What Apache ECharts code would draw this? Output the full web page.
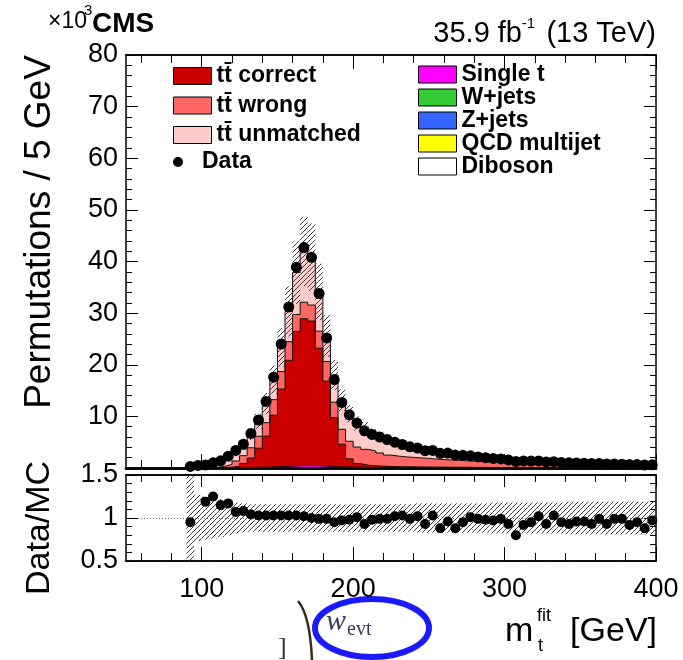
<!DOCTYPE html>
<html><head><meta charset="utf-8">
<script src="https://cdn.jsdelivr.net/npm/echarts@6/dist/echarts.min.js"></script>
<style>html,body{margin:0;padding:0;background:#fff}#c{width:683px;height:660px}</style>
</head><body><div id="c"></div><script>
// ---- data (values in units of 10^3 permutations per 5 GeV) ----
const binWidth = 5;
const binLow = [90,95,100,105,110,115,120,125,130,135,140,145,150,155,160,165,170,175,180,185,
190,195,200,205,210,215,220,225,230,235,240,245,250,255,260,265,270,275,280,285,
290,295,300,305,310,315,320,325,330,335,340,345,350,355,360,365,370,375,380,385,390,395];
const dataVals = [0.3,0.5,0.6,1.0,1.4,2.3,3.4,4.6,6.7,9.3,
12.9,17.6,24.0,31.2,38.9,42.7,40.8,33.8,25.2,17.1,
12.7,10.3,8.7,7.2,6.5,6.0,5.5,5.0,4.55,4.1,
3.85,3.35,3.4,2.85,2.9,2.5,2.45,2.35,2.15,2.0,
1.85,1.75,1.56,1.27,1.38,1.35,1.36,1.17,1.23,1.07,
1.0,0.98,0.93,0.86,0.87,0.78,0.79,0.75,0.67,0.66,
0.59,0.61];
const ttCorrect = [0,0,0,0.01,0.03,0.1,0.3,0.8,1.8,3.7,
6.0,10.0,15.0,20.5,26.0,28.4,28.0,22.8,16.5,9.5,
4.4,1.6,0.7,0.4,0.3,0.25,0.2,0.18,0.16,0.15,
0.14,0.13,0.12,0.11,0.10,0.10,0.09,0.08,0.08,0.07,
0.07,0.06,0.06,0.06,0.05,0.05,0.05,0.05,0.05,0.05,
0.05,0.04,0.04,0.04,0.04,0.04,0.04,0.03,0.03,0.03,
0.03,0.03];
const ttWrong = [0,0,0.02,0.08,0.25,0.55,1.0,1.5,2.0,2.3,
2.6,3.0,3.4,3.6,3.3,3.2,3.1,3.3,3.8,3.0,
2.9,3.4,3.2,3.07,2.88,2.55,2.2,2.04,1.92,1.83,
1.75,1.66,1.55,1.46,1.40,1.34,1.25,1.18,1.12,1.07,
1.02,0.97,0.93,0.88,0.84,0.79,0.75,0.72,0.68,0.65,
0.62,0.59,0.56,0.54,0.51,0.48,0.46,0.44,0.43,0.41,
0.39,0.37];
const ttUnmatched = [0.31,0.39,0.47,0.69,0.91,1.28,1.83,1.89,2.54,2.91,
3.74,3.9,4.64,5.88,8.11,9.83,9.27,7.63,4.91,5.27,
5.62,5.34,4.57,4.11,3.31,3.16,3.08,2.6,2.27,2.1,
1.82,1.76,1.58,1.62,1.48,1.36,1.2,1.03,0.94,0.87,
0.79,0.71,0.66,0.62,0.59,0.56,0.51,0.47,0.44,0.41,
0.38,0.37,0.35,0.33,0.31,0.31,0.29,0.28,0.26,0.24,
0.24,0.22];
const singleT = [0.01,0.01,0.01,0.02,0.02,0.03,0.04,0.06,0.08,0.10,
0.13,0.17,0.22,0.27,0.33,0.40,0.36,0.31,0.24,0.19,
0.15,0.13,0.11,0.10,0.09,0.08,0.07,0.06,0.055,0.05,
0.047,0.044,0.04,0.038,0.036,0.033,0.031,0.029,0.027,0.026,
0.024,0.023,0.022,0.021,0.02,0.019,0.018,0.017,0.016,0.015,
0.014,0.014,0.013,0.012,0.012,0.011,0.011,0.01,0.01,0.01,
0.009,0.009];
const wJets = [0.002,0.003,0.004,0.005,0.006,0.008,0.01,0.012,0.015,0.018,
0.022,0.027,0.033,0.04,0.045,0.05,0.048,0.043,0.036,0.03,
0.026,0.023,0.02,0.018,0.016,0.015,0.014,0.013,0.012,0.011,
0.01,0.01,0.009,0.009,0.008,0.008,0.007,0.007,0.007,0.006,
0.006,0.006,0.005,0.005,0.005,0.005,0.004,0.004,0.004,0.004,
0.004,0.003,0.003,0.003,0.003,0.003,0.003,0.003,0.002,0.002,
0.002,0.002];
const zJets = [0.001,0.001,0.001,0.002,0.002,0.002,0.003,0.004,0.005,0.006,
0.007,0.008,0.01,0.012,0.014,0.015,0.014,0.013,0.011,0.009,
0.008,0.007,0.006,0.005,0.005,0.005,0.004,0.004,0.004,0.003,
0.003,0.003,0.003,0.003,0.002,0.002,0.002,0.002,0.002,0.002,
0.002,0.002,0.002,0.001,0.001,0.001,0.001,0.001,0.001,0.001,
0.001,0.001,0.001,0.001,0.001,0.001,0.001,0.001,0.001,0.001,
0.001,0.001];
const qcdMultijet = [0,0,0.003,0.004,0.006,0.008,0.01,0.012,0.014,0.016,
0.02,0.024,0.03,0.035,0.05,0.04,0.035,0.03,0.025,0.02,
0.018,0.016,0.014,0.012,0.011,0.01,0.009,0.009,0.008,0.008,
0.007,0.007,0.006,0.006,0.006,0.005,0.02,0.005,0.005,0.004,
0.004,0.004,0.004,0.004,0.003,0.003,0.003,0.012,0.003,0.003,
0.003,0.002,0.002,0.002,0.002,0.002,0.002,0.002,0.002,0.002,
0.002,0.002];
const diboson = [0.001,0.001,0.001,0.001,0.001,0.002,0.002,0.002,0.003,0.003,
0.004,0.004,0.005,0.005,0.006,0.006,0.006,0.005,0.005,0.004,
0.004,0.003,0.003,0.003,0.003,0.003,0.002,0.002,0.002,0.002,
0.002,0.002,0.002,0.002,0.002,0.002,0.002,0.001,0.001,0.001,
0.001,0.001,0.001,0.001,0.001,0.001,0.001,0.001,0.001,0.001,
0.001,0.001,0.001,0.001,0.001,0.001,0.001,0.001,0.001,0.001,
0.001,0.001];
const ratioVals = [0.95,null,1.19,1.25,1.15,1.17,1.07,1.08,1.04,1.03,
1.03,1.03,1.03,1.03,1.03,1.02,1.00,0.99,0.99,0.95,
0.97,0.98,1.01,0.93,0.98,0.99,0.99,1.02,1.03,0.99,
1.02,0.93,1.03,0.88,0.96,0.88,0.95,1.01,0.99,0.98,
0.97,0.99,0.93,0.80,0.92,0.95,1.02,0.93,1.03,0.95,
0.93,0.96,0.96,0.93,0.99,0.93,0.99,0.99,0.92,0.95,
0.88,0.97];
const relUnc = [0.6,0.27,0.25,0.24,0.22,0.2,0.18,0.17,0.16,0.16,
0.16,0.16,0.16,0.16,0.16,0.16,0.16,0.16,0.16,0.16,
0.16,0.16,0.16,0.16,0.16,0.16,0.16,0.16,0.16,0.16,
0.17,0.17,0.17,0.17,0.17,0.17,0.17,0.17,0.17,0.17,
0.18,0.18,0.18,0.18,0.18,0.18,0.18,0.18,0.18,0.18,
0.19,0.19,0.19,0.19,0.19,0.19,0.19,0.19,0.19,0.19,
0.19,0.19];
const xMajorTicks = [100,200,300,400];
const xMinorTicks = [60,80,120,140,160,180,220,240,260,280,320,340,360,380];

// ---- helpers ----
const FONT = '"Liberation Sans", Arial, Helvetica, sans-serif';
const names = {
  correct:'tt\u0304 correct', wrong:'tt\u0304 wrong', unmatched:'tt\u0304 unmatched', data:'Data',
  st:'Single t', wj:'W+jets', zj:'Z+jets', qcd:'QCD multijet', db:'Diboson'
};
function stepData(vals){
  const d = binLow.map((x,i)=>[x, vals[i]]);
  d.push([binLow[binLow.length-1]+binWidth, vals[vals.length-1]]);
  return d;
}
const centers = binLow.map(x=>x+binWidth/2);
// stack order, bottom to top
const layers = [
  [names.db, diboson, '#ffffff'],
  [names.qcd, qcdMultijet, '#ffff00'],
  [names.zj, zJets, '#3366ff'],
  [names.wj, wJets, '#33cc33'],
  [names.st, singleT, '#ff00ff'],
  [names.correct, ttCorrect, '#cc0000'],
  [names.wrong, ttWrong, '#ff6666'],
  [names.unmatched, ttUnmatched, '#ffcccc']
];
const cumul = [];
layers.forEach((l,k)=>{ cumul.push(l[1].map((v,i)=>v+(k?cumul[k-1][i]:0))); });
const mcTotal = cumul[cumul.length-1];

function hatch(){
  const c=document.createElement('canvas'); c.width=5; c.height=5;
  const g=c.getContext('2d'); g.strokeStyle='#3a3a3a'; g.lineWidth=1;
  g.beginPath(); g.moveTo(0,5); g.lineTo(5,0); g.moveTo(-1,1); g.lineTo(1,-1); g.moveTo(4,6); g.lineTo(6,4); g.stroke();
  return c;
}
const hatchPattern = {image: hatch(), repeat:'repeat'};

function xAx(grid,pos,ticks,len,lw,labels){
  return {gridIndex:grid,type:'value',position:pos,min:50,max:400,
    axisLine:{show:true,onZero:false,lineStyle:{color:'#000',width:lw}},
    axisTick:{show:true,inside:true,length:len,customValues:ticks,lineStyle:{color:'#000',width:1}},
    axisLabel: labels ? {show:true,customValues:xMajorTicks,fontSize:27,fontFamily:FONT,color:'#000',margin:15} : {show:false},
    splitLine:{show:false}};
}
function yAx(grid,pos,min,max,interval,labels,split){
  return {gridIndex:grid,type:'value',position:pos,min,max,interval,
     axisLine:{show:true,lineStyle:{color:'#000',width:1.5}},
     axisTick:{show:true,inside:true,length:12,lineStyle:{color:'#000'}},
     minorTick:{show:true,splitNumber:5,length:6,lineStyle:{color:'#000'}},
     axisLabel: labels ? {fontSize:27,fontFamily:FONT,color:'#000',margin:8,formatter:labels} : {show:false},
     splitLine: split ? {show:true,lineStyle:{color:'#777',type:[1,2],width:1}} : {show:false}};
}
// cumulative histograms drawn from the top layer down, each filled to zero
const mcSeries = layers.map((l,k)=>({name:l[0],type:'line',xAxisIndex:0,yAxisIndex:0,step:'end',symbol:'none',
    data:stepData(cumul[k]),lineStyle:{color:'#111',width:1},
    itemStyle:{color:l[2],borderColor:'#000',borderWidth:1},
    areaStyle:{color:l[2],opacity:1},silent:true,z:2})).reverse();

function bandSeries(xi,yi,lo,hi){
  return {type:'custom',xAxisIndex:xi,yAxisIndex:yi,silent:true,z:3,
    data:binLow.map((x,i)=>[x,x+binWidth,lo[i],hi[i]]),
    encode:{x:[0,1],y:[2,3]},
    renderItem:(params,api)=>{
      const cs=params.coordSys;
      const a=api.coord([api.value(0),api.value(3)]);
      const b=api.coord([api.value(1),api.value(2)]);
      const y0=Math.max(a[1],cs.y), y1=Math.min(b[1],cs.y+cs.height);
      if(y1<=y0) return null;
      return {type:'rect',shape:{x:a[0],y:y0,width:b[0]-a[0],height:y1-y0},style:{fill:hatchPattern}};
    }};
}
const legendText = {fontFamily:FONT,fontWeight:'bold',fontSize:23,color:'#000'};

const option = {
  animation:false,
  backgroundColor:'#fff',
  grid:[{left:126,top:55,width:530,height:413},{left:126,top:475,width:530,height:86}],
  xAxis:[
    xAx(0,'bottom',xMajorTicks,14,2.5,false), xAx(0,'bottom',xMinorTicks,8,2.5,false),
    xAx(0,'top',xMajorTicks,14,1.5,false), xAx(0,'top',xMinorTicks,8,1.5,false),
    xAx(1,'bottom',xMajorTicks,14,1.5,true), xAx(1,'bottom',xMinorTicks,8,1.5,false),
    xAx(1,'top',xMajorTicks,12,1.5,false), xAx(1,'top',xMinorTicks,7,1.5,false)
  ],
  yAxis:[
    yAx(0,'left',0,80,10,v=>v===0?'':String(v),false),
    yAx(0,'right',0,80,10,null,false),
    yAx(1,'left',0.5,1.5,0.5,v=>v===1?'1':v.toFixed(1),true),
    yAx(1,'right',0.5,1.5,0.5,null,false)
  ],
  legend:[
    {data:[names.correct,names.wrong,names.unmatched],left:168,top:59.5,orient:'vertical',icon:'rect',
     itemWidth:38,itemHeight:17,itemGap:6.5,selectedMode:false,textStyle:legendText,
     itemStyle:{borderColor:'#000',borderWidth:1}},
    {data:[names.data],left:168,top:145.5,orient:'vertical',icon:'circle',
     itemWidth:38,itemHeight:10,selectedMode:false,textStyle:legendText},
    {data:[names.st,names.wj,names.zj,names.qcd,names.db],left:413,top:58,orient:'vertical',icon:'rect',
     itemWidth:38,itemHeight:17,itemGap:0,selectedMode:false,textStyle:legendText,
     itemStyle:{borderColor:'#000',borderWidth:1}}
  ],
  series: mcSeries.concat([
    bandSeries(0,0,mcTotal.map((t,i)=>t*(1-relUnc[i])),mcTotal.map((t,i)=>t*(1+relUnc[i]))),
    {name:names.data,type:'scatter',xAxisIndex:0,yAxisIndex:0,symbol:'circle',symbolSize:11,clip:false,
     itemStyle:{color:'#000',opacity:1},data:centers.map((x,i)=>[x,dataVals[i]]),z:5},
    bandSeries(4,2,relUnc.map(u=>1-u),relUnc.map(u=>1+u)),
    {name:'ratio',type:'scatter',xAxisIndex:4,yAxisIndex:2,symbol:'circle',symbolSize:10,clip:false,
     itemStyle:{color:'#000',opacity:1},data:centers.map((x,i)=>[x,ratioVals[i]]).filter(p=>p[1]!==null),z:5}
  ]),
  graphic:[
    {type:'text',x:48,y:22,style:{text:'\u00d710',font:'23px '+FONT,fill:'#000',align:'left',verticalAlign:'middle'}},
    {type:'text',x:84,y:11,style:{text:'3',font:'15px '+FONT,fill:'#000',align:'left',verticalAlign:'middle'}},
    {type:'text',x:92,y:24,style:{text:'CMS',font:'bold 28px '+FONT,fill:'#000',align:'left',verticalAlign:'middle'}},
    {type:'text',x:656,y:34,style:{text:' (13 TeV)',font:'29px '+FONT,fill:'#000',align:'right',verticalAlign:'middle'}},
    {type:'text',x:535,y:24,style:{text:'-1',font:'15px '+FONT,fill:'#000',align:'right',verticalAlign:'middle'}},
    {type:'text',x:522,y:34,style:{text:'35.9 fb',font:'29px '+FONT,fill:'#000',align:'right',verticalAlign:'middle'}},
    {type:'text',x:40,y:232,rotation:Math.PI/2,style:{text:'Permutations / 5 GeV',font:'37px '+FONT,fill:'#000',align:'center',verticalAlign:'middle'}},
    {type:'text',x:40,y:528,rotation:Math.PI/2,style:{text:'Data/MC',font:'34px '+FONT,fill:'#000',align:'center',verticalAlign:'middle'}},
    {type:'text',x:505,y:632,style:{text:'m',font:'34px '+FONT,fill:'#000',align:'left',verticalAlign:'middle'}},
    {type:'text',x:537,y:616,style:{text:'fit',font:'18px '+FONT,fill:'#000',align:'left',verticalAlign:'middle'}},
    {type:'text',x:538,y:646,style:{text:'t',font:'18px '+FONT,fill:'#000',align:'left',verticalAlign:'middle'}},
    {type:'text',x:657,y:632,style:{text:'[GeV]',font:'34px '+FONT,fill:'#000',align:'right',verticalAlign:'middle'}},
    {type:'ellipse',shape:{cx:372,cy:628,rx:57,ry:29},style:{fill:'none',stroke:'#1a1aff',lineWidth:6}},
    {type:'text',x:326,y:622,style:{text:'w',font:'italic 30px "Liberation Serif", serif',fill:'#3a3a5a',align:'left',verticalAlign:'middle'}},
    {type:'text',x:347,y:630,style:{text:'evt',font:'20px "Liberation Serif", serif',fill:'#3a3a5a',align:'left',verticalAlign:'middle'}},
    {type:'text',x:278,y:648,style:{text:']',font:'26px "Liberation Serif", serif',fill:'#333',align:'left',verticalAlign:'middle'}},
    {type:'bezierCurve',shape:{x1:298,y1:601,x2:312,y2:660,cpx1:310,cpy1:615},style:{stroke:'#3a2a1a',lineWidth:2.5,fill:'none'}}
  ]
};
const chart = echarts.init(document.getElementById('c'),null,{renderer:'canvas',width:683,height:660});
chart.setOption(option);
</script></body></html>
